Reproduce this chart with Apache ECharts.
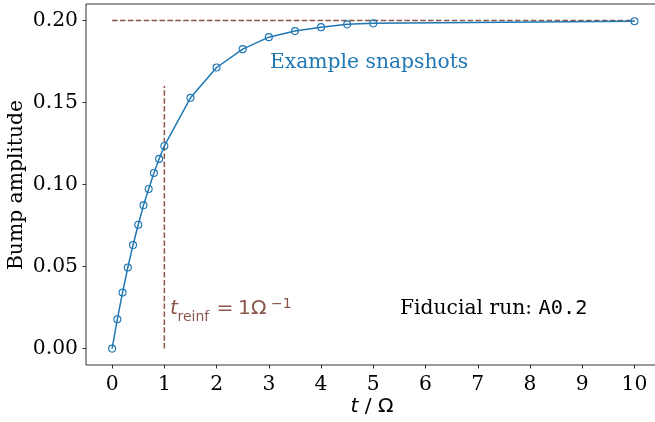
<!DOCTYPE html>
<html>
<head>
<meta charset="utf-8">
<script src="https://cdn.jsdelivr.net/npm/echarts@6/dist/echarts.min.js"></script>
<style>html,body{margin:0;padding:0;background:#fff}#c{width:655px;height:422px}</style>
</head>
<body>
<div id="c"></div>
<script>
const tValues = [0, 0.1, 0.2, 0.3, 0.4, 0.5, 0.6, 0.7, 0.8, 0.9, 1.0, 1.5, 2, 2.5, 3, 3.5, 4, 4.5, 5, 10];
const ampValues = [0.000, 0.0179, 0.0342, 0.0494, 0.0631, 0.0755, 0.0873, 0.0973, 0.1070, 0.1156, 0.1235, 0.1528, 0.1713, 0.1825, 0.1898, 0.1935, 0.1959, 0.1976, 0.1982, 0.1995];
const xTicks = [0, 1, 2, 3, 4, 5, 6, 7, 8, 9, 10];
const yTicks = [0, 0.05, 0.10, 0.15, 0.20];
const plateauLine = [[0, 0.2], [10, 0.2]];
const reinfLine = [[1, 0], [1, 0.16]];

const BLUE = '#1f77b4', BROWN = '#8c564b';
const SERIF = '"DejaVu Serif", serif';
const SANS = '"DejaVu Sans", sans-serif';
const FS = 20.3;

const chart = echarts.init(document.getElementById('c'), null, {renderer: 'canvas'});
chart.setOption({
  animation: false,
  backgroundColor: '#fff',
  grid: {left: 86, top: 4, width: 574.6, height: 361, show: true, borderColor: '#000', borderWidth: 0.8, outerBoundsMode: 'none'},
  xAxis: {
    type: 'value', min: -0.5, max: 10.5,
    axisLine: {show: false, onZero: false},
    splitLine: {show: false},
    axisTick: {show: true, length: 3.5, inside: false, customValues: xTicks, lineStyle: {color: '#000', width: 0.8}},
    axisLabel: {customValues: xTicks, margin: 10, color: '#000', fontFamily: SERIF, fontSize: FS, formatter: v => String(v)}
  },
  yAxis: {
    type: 'value', min: -0.01, max: 0.21,
    axisLine: {show: false, onZero: false},
    splitLine: {show: false},
    axisTick: {show: true, length: 3.5, inside: false, customValues: yTicks, lineStyle: {color: '#000', width: 0.8}},
    axisLabel: {customValues: yTicks, margin: 8, color: '#000', fontFamily: SERIF, fontSize: FS, formatter: v => v.toFixed(2)}
  },
  series: [
    {
      type: 'line', data: plateauLine, symbol: 'none', silent: true, z: 1,
      lineStyle: {color: BROWN, width: 1.5, type: [5.5, 2.4]}
    },
    {
      type: 'line', data: reinfLine, symbol: 'none', silent: true, z: 1,
      lineStyle: {color: BROWN, width: 1.5, type: [5.5, 2.4]}
    },
    {
      type: 'line', z: 3,
      data: tValues.map((t, i) => [t, ampValues[i]]),
      symbol: 'circle', symbolSize: 7,
      lineStyle: {color: BLUE, width: 1.5},
      itemStyle: {color: 'rgba(0,0,0,0)', borderColor: BLUE, borderWidth: 1.1}
    }
  ],
  graphic: [
    {type: 'text', left: 270, top: 53, style: {text: 'Example snapshots', fill: BLUE, font: FS + 'px ' + SERIF}},
    {type: 'text', left: 400, top: 299, style: {rich: {a: {fontFamily: SERIF, fontSize: FS, fill: '#000'}, m: {fontFamily: '"DejaVu Sans Mono", monospace', fontSize: FS, fill: '#000'}}, text: '{a|Fiducial run: }{m|A0.2}'}},
    {type: 'text', x: 170, y: 319, style: {text: 't', fill: BROWN, font: 'italic ' + FS + 'px ' + SANS, verticalAlign: 'bottom'}},
    {type: 'text', x: 177.5, y: 324, style: {text: 'reinf', fill: BROWN, font: '14px ' + SANS, verticalAlign: 'bottom'}},
    {type: 'text', x: 216.5, y: 319, style: {text: '=', fill: BROWN, font: FS + 'px ' + SANS, verticalAlign: 'bottom'}},
    {type: 'text', x: 238, y: 319, style: {text: '1', fill: BROWN, font: FS + 'px ' + SANS, verticalAlign: 'bottom'}},
    {type: 'text', x: 251, y: 319, style: {text: 'Ω', fill: BROWN, font: FS + 'px ' + SANS, verticalAlign: 'bottom'}},
    {type: 'text', x: 271, y: 311, style: {text: '−1', fill: BROWN, font: '14px ' + SANS, verticalAlign: 'bottom'}},
    {type: 'text', x: 372, y: 407, style: {rich: {i: {fontFamily: SANS, fontStyle: 'italic', fontSize: FS, fill: '#000'}, n: {fontFamily: SANS, fontSize: FS, fill: '#000'}}, text: '{i|t} / {n|Ω}', align: 'center', verticalAlign: 'middle', fontFamily: SANS, fontSize: FS, fill: '#000'}},
    {type: 'text', x: 17, y: 185, rotation: Math.PI / 2, style: {text: 'Bump amplitude', fill: '#000', font: FS + 'px ' + SERIF, align: 'center', verticalAlign: 'middle'}}
  ]
});
</script>
</body>
</html>
